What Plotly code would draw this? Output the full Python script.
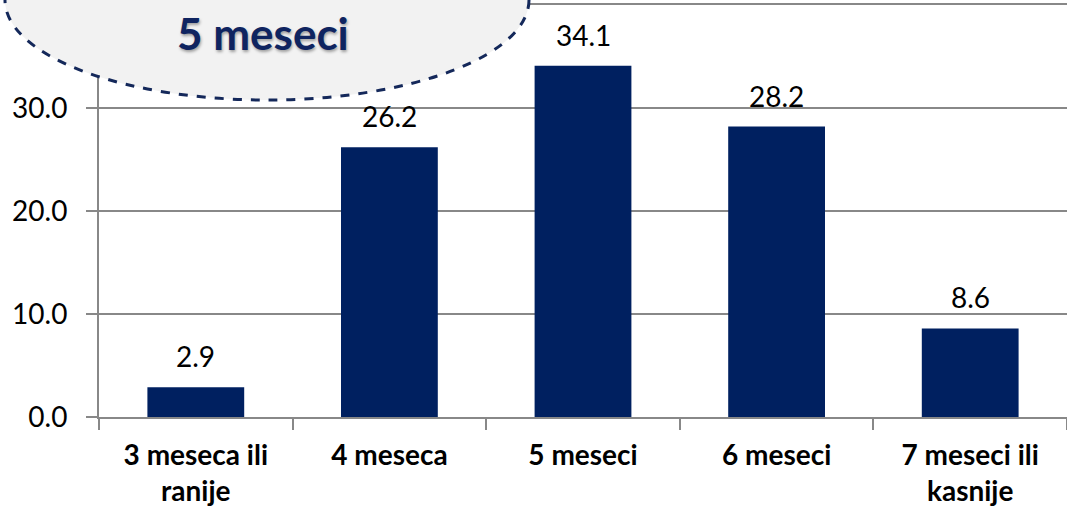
import plotly.graph_objects as go

categories = ["3 meseca ili<br>ranije", "4 meseca", "5 meseci", "6 meseci", "7 meseci ili<br>kasnije"]
values = [2.9, 26.2, 34.1, 28.2, 8.6]
value_labels = ["2.9", "26.2", "34.1", "28.2", "8.6"]
y_ticks = [0, 10, 20, 30, 40]
y_ticktext = ["0.0", "10.0", "20.0", "30.0", "40.0"]
callout_text = "5 meseci"

FONT = "Lato"
BAR = "#002060"
GRID = "#888888"

fig = go.Figure()
fig.add_trace(go.Bar(x=categories, y=values, marker=dict(color=BAR, line=dict(width=0)), width=0.5,
                     hoverinfo="skip"))

for c, v, t in zip(categories, values, value_labels):
    fig.add_annotation(x=c, y=v, text=t, showarrow=False, yanchor="bottom", yshift=12,
                       font=dict(family=FONT, size=28, color="#000000"))

W, H = 1067, 511
L, R, T, B = 99, 0, 5, 94
pw, ph = W - L - R, H - T - B

def px(x):
    return (x - L) / pw

def py(y):
    return (H - B - y) / ph

fig.add_shape(type="circle", xref="paper", yref="paper",
              x0=px(5), x1=px(529), y0=py(100), y1=py(-100),
              fillcolor="#f2f2f2", line=dict(color="#14285a", width=3, dash="dash"), layer="above")

fig.add_annotation(xref="paper", yref="paper", x=px(263), y=py(33), text="<b>%s</b>" % callout_text,
                   showarrow=False, xanchor="center", yanchor="middle",
                   font=dict(family=FONT, size=44, color="#0f2460", shadow="1px 2px 3px rgba(0,0,0,0.35)"))

fig.update_layout(
    width=W, height=H, margin=dict(l=L, r=R, t=T, b=B, pad=0, autoexpand=False),
    plot_bgcolor="white", paper_bgcolor="white", showlegend=False, bargap=0.5,
    font=dict(family=FONT, size=28, color="#000000"),
)
fig.update_xaxes(type="category", showline=True, mirror=True, linecolor=GRID, linewidth=2,
                 ticks="outside", tickson="boundaries", ticklen=11, tickcolor=GRID, tickwidth=2,
                 tickfont=dict(family=FONT, size=28, color="#000000", weight="bold"),
                 ticklabelstandoff=12, showgrid=False, automargin=False)
fig.update_yaxes(range=[0, 40], tickvals=y_ticks, ticktext=y_ticktext, showline=True, linecolor=GRID, linewidth=2,
                 ticks="outside", ticklen=11, tickcolor=GRID, tickwidth=2,
                 showgrid=True, gridcolor=GRID, gridwidth=2, zeroline=False, automargin=False,
                 tickfont=dict(family=FONT, size=28, color="#000000"), ticklabelstandoff=13)

fig.write_html("out.html", config={"displayModeBar": False},
               post_script="document.body.style.margin='0';document.body.style.overflow='hidden';")
